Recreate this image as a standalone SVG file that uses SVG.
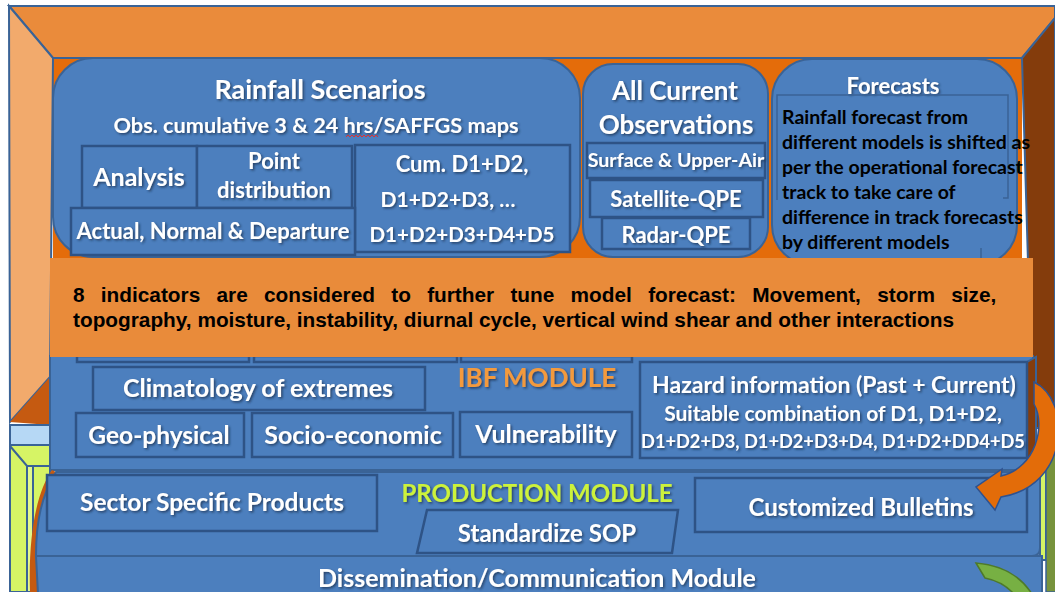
<svg xmlns="http://www.w3.org/2000/svg" width="1055" height="592" viewBox="0 0 1055 592">
<defs>
<filter id="sh" x="-10%" y="-30%" width="120%" height="160%">
<feDropShadow dx="1.5" dy="1.5" stdDeviation="0.8" flood-color="#1b2f4a" flood-opacity="0.75"/>
</filter>
<style>
.pan{fill:#4C7FBE;stroke:#3A6396;stroke-width:2}
.box{fill:#4C7FBE;stroke:#2E5386;stroke-width:2.5}
.ln{stroke:#3A6396;stroke-width:2}
.t{font-family:Lato,"Liberation Sans",sans-serif;font-weight:bold;fill:#fff;text-anchor:middle;filter:url(#sh)}
.b{font-family:Lato,"Liberation Sans",sans-serif;font-weight:bold;fill:#000;font-size:19.5px}
.n{font-family:"Liberation Sans",Arial,sans-serif;font-weight:bold;fill:#000;font-size:20.8px}
</style>
</defs>
<rect width="1055" height="592" fill="#fff"/>
<g id="frame">
<rect x="53" y="58" width="969" height="205" fill="#E46C0A"/>
<polygon points="9,6 1055,6 1055,18 1022,58 53,58" fill="#EA8B3B" class="ln"/>
<polygon points="9,6 53,58 50,377 10,422" fill="#F2AA6C" class="ln"/>
<polygon points="10,422 50,377 50,425" fill="#C55A11"/>
<polygon points="1022,58 1055,18 1055,432 1033,432" fill="#843C0C" class="ln"/>
<rect x="10" y="425" width="40" height="20" fill="#B6D8F5" class="ln"/>
<rect x="10" y="445" width="40" height="147" fill="#D6F465" class="ln"/>
<polyline points="10,446 27,466 50,466" fill="none" class="ln"/>
<rect x="27" y="466" width="6" height="126" fill="#E2F88A" class="ln"/>
<polygon points="1033,428 1055,428 1055,448 1040,448" fill="#E6E0F2" class="ln"/>
<polygon points="1036,448 1054,448 1046,462" fill="#D6F465" class="ln"/>
<rect x="1040" y="455" width="6" height="105" fill="#D6F465" class="ln"/>
<rect x="1046" y="450" width="10" height="142" fill="#77933C" stroke="#3A6396" stroke-width="1.5"/>
</g>
<g id="rainfall">
<rect x="53" y="58" width="527" height="199" rx="40" class="pan"/>
<text class="t" x="320" y="99" font-size="27">Rainfall Scenarios</text>
<text class="t" x="316" y="133" font-size="21.7">Obs. cumulative 3 &amp; 24 hrs/SAFFGS maps</text>
<path d="M346,137 l2,-2 2,2 2,-2 2,2 2,-2 2,2 2,-2 2,2 2,-2 2,2 2,-2 2,2 2,-2 2,2 2,-2 2,2" fill="none" stroke="#E03030" stroke-width="1"/>
<rect x="82" y="146" width="115" height="62" class="box"/>
<text class="t" x="139" y="186" font-size="25">Analysis</text>
<rect x="197" y="146" width="155" height="62" class="box"/>
<text class="t" x="274" y="169" font-size="22">Point</text>
<text class="t" x="274" y="198" font-size="22">distribution</text>
<rect x="355" y="145" width="215" height="107" class="box"/>
<text class="t" x="462" y="172" font-size="22">Cum. D1+D2,</text>
<text class="t" x="448" y="207" font-size="21">D1+D2+D3, …</text>
<text class="t" x="462" y="242" font-size="20.5">D1+D2+D3+D4+D5</text>
<rect x="71" y="208" width="284" height="47" class="box"/>
<text class="t" x="213" y="239" font-size="22">Actual, Normal &amp; Departure</text>
</g>
<g id="observations">
<rect x="583" y="64" width="185" height="193" rx="30" class="pan"/>
<text class="t" x="675" y="100" font-size="26">All Current</text>
<text class="t" x="676" y="134" font-size="26">Observations</text>
<rect x="587" y="143" width="178" height="35" class="box"/>
<text class="t" x="676" y="167" font-size="19.6">Surface &amp; Upper-Air</text>
<rect x="590" y="180" width="173" height="37" class="box"/>
<text class="t" x="676" y="207" font-size="22">Satellite-QPE</text>
<rect x="602" y="218" width="148" height="31" class="box"/>
<text class="t" x="676" y="243" font-size="22">Radar-QPE</text>
</g>
<g id="forecasts">
<rect x="772" y="59" width="245" height="206" rx="40" class="pan"/>
<text class="t" x="893" y="94" font-size="22">Forecasts</text>
<path d="M777,200 V95 H1008 V198 H1003" fill="none" stroke="#3A6396" stroke-width="1.5"/>
<path d="M981,248 V262" fill="none" stroke="#3A6396" stroke-width="1.5"/>
<text class="b" x="782" y="124">Rainfall forecast from</text>
<text class="b" x="782" y="149">different models is shifted as</text>
<text class="b" x="782" y="174">per the operational forecast</text>
<text class="b" x="782" y="199">track to take care of</text>
<text class="b" x="782" y="224">difference in track forecasts</text>
<text class="b" x="782" y="249">by different models</text>
</g>
<g id="ibf">
<rect x="50" y="356" width="983" height="114" class="pan"/>
<rect x="77" y="356" width="172" height="6" class="box"/>
<rect x="254" y="356" width="203" height="6" class="box"/>
<rect x="461" y="356" width="171" height="6" class="box"/>
<text class="t" x="537" y="387" font-size="26" style="fill:#F39A3E">IBF MODULE</text>
</g>
<g id="indicators">
<rect x="50" y="258" width="983" height="99" fill="#E98B3A"/>
<text class="n" x="73" y="302" word-spacing="10.5">8 indicators are considered to further tune model forecast: Movement, storm size,</text>
<text class="n" x="73" y="327">topography, moisture, instability, diurnal cycle, vertical wind shear and other interactions</text>
</g>
<g id="climatology">
<rect x="93" y="367" width="332" height="43" class="box"/>
<text class="t" x="258" y="397" font-size="25">Climatology of extremes</text>
</g>
<g id="geo">
<rect x="76" y="413" width="168" height="44" class="box"/>
<text class="t" x="159" y="444" font-size="24.5">Geo-physical</text>
</g>
<g id="socio">
<rect x="252" y="413" width="201" height="44" class="box"/>
<text class="t" x="353" y="444" font-size="25">Socio-economic</text>
</g>
<g id="vulnerability">
<rect x="460" y="412" width="172" height="45" class="box"/>
<text class="t" x="546" y="443" font-size="25">Vulnerability</text>
</g>
<g id="hazard">
<polygon points="1027,362 1036,357 1036,468 1027,460" fill="#843C0C" class="ln"/>
<rect x="640" y="362" width="387" height="96" class="box"/>
<text class="t" x="834" y="393" font-size="23">Hazard information (Past + Current)</text>
<text class="t" x="833" y="421" font-size="21">Suitable combination of D1, D1+D2,</text>
<text class="t" x="833" y="448" font-size="18.2">D1+D2+D3, D1+D2+D3+D4, D1+D2+DD4+D5</text>
</g>
<g id="production">
<path d="M52,470 C38,490 28,530 30,592 L38,592 C36,540 40,500 56,472 Z" fill="#C55A11"/>
<path d="M56,472 H1032 Q1040,472 1040,480 V548 Q1040,556 1032,556 H36 C36,520 42,495 56,472 Z" class="pan"/>
<text class="t" x="537" y="502" font-size="24" style="fill:#CCF23A">PRODUCTION MODULE</text>
</g>
<g id="sector">
<rect x="47" y="475" width="330" height="56" class="box"/>
<text class="t" x="212" y="511" font-size="24.5">Sector Specific Products</text>
</g>
<g id="sop">
<polygon points="427,510 678,510 672,553 417,553" class="box"/>
<text class="t" x="547" y="542" font-size="24">Standardize SOP</text>
</g>
<g id="bulletins">
<rect x="695" y="478" width="332" height="54" class="box"/>
<text class="t" x="861" y="516" font-size="24">Customized Bulletins</text>
</g>
<g id="dissemination">
<path d="M36,556 H1042 V594 H38 Z" class="pan"/>
<path d="M976,563 C1000,565 1020,575 1032,594 L1014,594 C1005,584 995,580 985,578 Z" fill="#77B043" stroke="#4E7A2A" stroke-width="1.5"/>
<text class="t" x="537" y="587" font-size="25">Dissemination/Communication Module</text>
</g>
<g id="connectors">
<path d="M1034,382 C1072,400 1070,486 1001,497 L995,510 L976,487 L1002,469 L1001,476 C1036,468 1046,425 1034,404 Z" fill="#E36C09" stroke="#2F528F" stroke-width="1.5"/>
</g>
</svg>
